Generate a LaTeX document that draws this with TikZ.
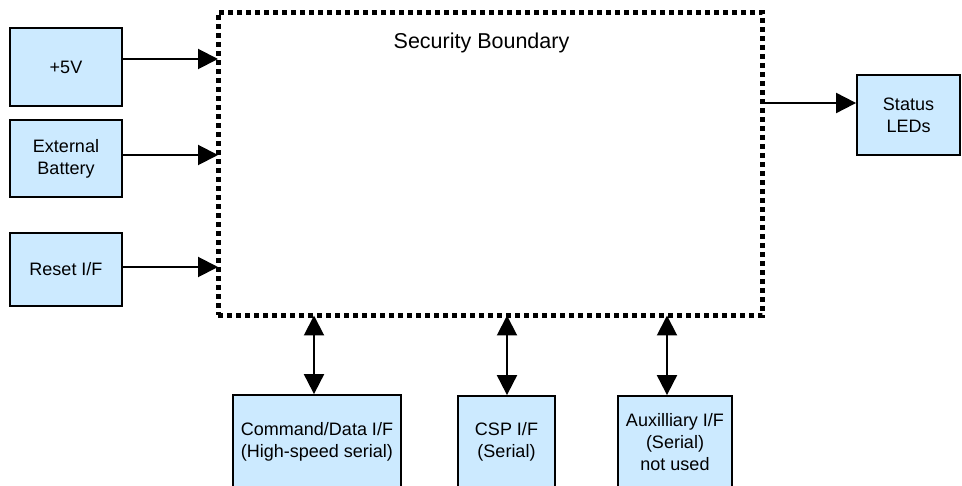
\documentclass[tikz,border=0pt]{standalone}
\usepackage{fontspec}
\setmainfont{Liberation Sans}
\usetikzlibrary{arrows.meta}
\definecolor{boxfill}{RGB}{204,234,255}
\begin{document}
\begin{tikzpicture}[x=1pt,y=-1pt,
  blk/.style={draw=black, line width=1.8pt, fill=boxfill, inner sep=0pt, align=center,
    font=\fontsize{18}{22}\selectfont},
  tip/.tip={Triangle[length=20pt,width=20pt]},
  arr/.style={line width=2pt, -tip},
  darr/.style={line width=2pt, tip-tip},
  bnd/.style={draw=black, line width=5pt, dash pattern=on 5pt off 4pt, inner sep=0pt}]
\useasboundingbox (0,0) rectangle (962,486);
\clip (0,0) rectangle (962,486);

% security boundary
\node[bnd, minimum width=544.5pt, minimum height=303pt] (sb) at (490.25,164) {};
\node[font=\fontsize{21.5}{26}\selectfont, inner sep=0pt] (sbl) at (481.5,43) {Security Boundary};

% left inputs
\node[blk, minimum width=112pt, minimum height=78pt] (b5v) at (66,67) {+5V};
\node[blk, minimum width=112pt, minimum height=77pt] (bat) at (66,158.5) {External\\Battery};
\node[blk, minimum width=112pt, minimum height=73pt] (rst) at (66,269.5) {Reset I/F};

% right output
\node[blk, minimum width=103pt, minimum height=80pt] (led) at (908.5,115) {Status\\LEDs};

% bottom interfaces
\node[blk, minimum width=168pt, minimum height=93pt] (cmd) at (317,441.5) {Command/Data I/F\\(High-speed serial)};
\node[blk, minimum width=97pt, minimum height=92pt] (csp) at (506.5,442) {CSP I/F\\(Serial)};
\node[blk, minimum width=114pt, minimum height=92pt] (aux) at (675,442) {Auxilliary I/F\\(Serial)\\not used};

% connection points on the boundary
\coordinate (p1) at (218,59);
\coordinate (p2) at (218,155);
\coordinate (p3) at (218,267);
\coordinate (q) at (762.5,103);
\coordinate (c1) at (314,315.5);
\coordinate (c2) at (507,315.5);
\coordinate (c3) at (667,315.5);

\draw[arr] (b5v.east |- p1) -- (p1);
\draw[arr] (bat.east |- p2) -- (p2);
\draw[arr] (rst.east |- p3) -- (p3);
\draw[arr] (q) -- (led.west |- q);
\draw[darr] (c1) -- (cmd.north -| c1);
\draw[darr] (c2) -- (csp.north -| c2);
\draw[darr] (c3) -- (aux.north -| c3);
\end{tikzpicture}
\end{document}
